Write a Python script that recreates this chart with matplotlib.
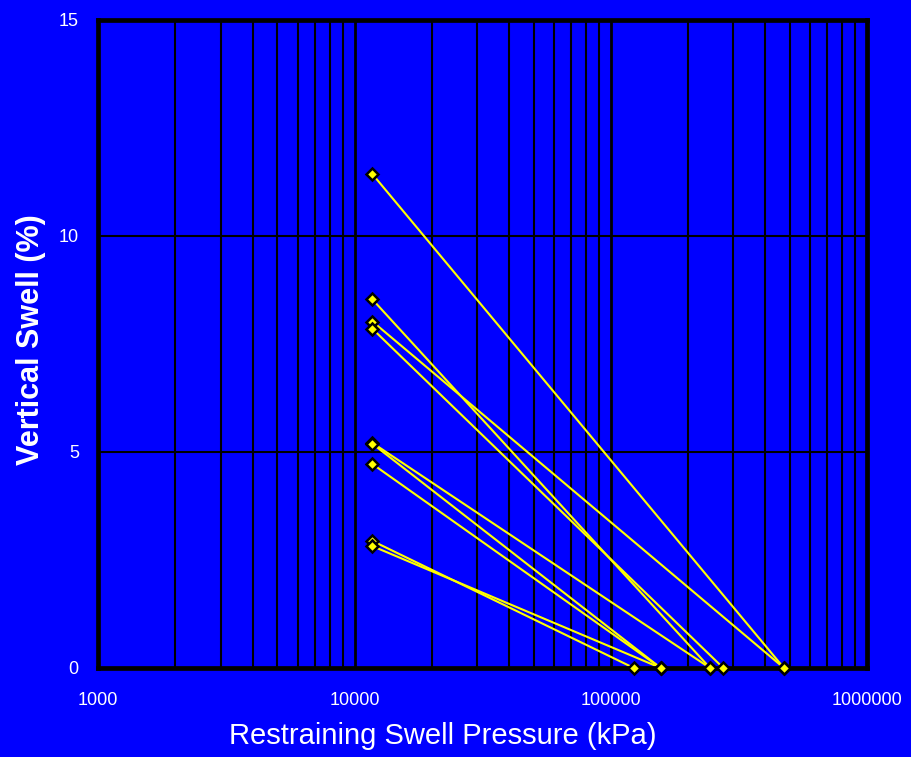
import matplotlib
matplotlib.use('Agg')
import matplotlib.pyplot as plt
from matplotlib.ticker import LogLocator, FixedLocator, FuncFormatter, NullFormatter

# one test per row: (pressure at zero restraint, swell) -> (swell pressure, 0 swell)
p_start = [11750, 11750, 11750, 11750, 11750, 11750, 11750, 11750, 11750]
swell_start = [11.43, 8.53, 8.02, 7.85, 5.21, 5.19, 4.72, 2.94, 2.82]
p_end = [474000, 244000, 474000, 275000, 244000, 156700, 156700, 123000, 156700]
swell_end = [0, 0, 0, 0, 0, 0, 0, 0, 0]

x_ticks = [1000, 10000, 100000, 1000000]
y_ticks = [0, 5, 10, 15]

plt.rcParams['font.family'] = ['Liberation Sans', 'DejaVu Sans']
blue = '#0000FF'

fig = plt.figure(figsize=(9.11, 7.57), dpi=100, facecolor=blue)
ax = fig.add_axes([0.1079, 0.1176, 0.8438, 0.856], facecolor=blue)

for i in range(len(p_start)):
    ax.plot([p_start[i], p_end[i]], [swell_start[i], swell_end[i]],
            color='#FFFF00', lw=1.5, zorder=3)
ax.plot(p_start, swell_start, linestyle='none', marker='D', ms=6.5,
        mfc='#FFFF00', mec='black', mew=1.8, zorder=4, clip_on=False)
ax.plot(p_end, swell_end, linestyle='none', marker='D', ms=6.5,
        mfc='#FFFF00', mec='black', mew=1.8, zorder=6, clip_on=False)

ax.set_xscale('log')
ax.set_xlim(1000, 1000000)
ax.set_ylim(0, 15)
ax.xaxis.set_major_locator(FixedLocator(x_ticks))
ax.xaxis.set_major_formatter(FuncFormatter(lambda v, pos: '%d' % round(v)))
ax.xaxis.set_minor_locator(LogLocator(base=10, subs=range(2, 10)))
ax.xaxis.set_minor_formatter(NullFormatter())
ax.yaxis.set_major_locator(FixedLocator(y_ticks))

ax.grid(True, which='major', axis='x', color='black', lw=2.0, zorder=1)
ax.grid(True, which='minor', axis='x', color='black', lw=1.5, zorder=1)
ax.grid(True, which='major', axis='y', color='black', lw=1.5, zorder=1)
ax.set_axisbelow(True)

ax.tick_params(which='both', length=0, colors='white', labelsize=13)
ax.tick_params(axis='x', pad=17)
ax.tick_params(axis='y', pad=14)

for s in ax.spines.values():
    s.set_color('black')
    s.set_linewidth(3.4)
    s.set_zorder(5)

fig.text(443 / 911, 1 - 736 / 757, 'Restraining Swell Pressure (kPa)',
         color='white', fontsize=21, ha='center', va='center')
fig.text(31 / 911, 1 - 340 / 757, 'Vertical Swell (%)', color='white',
         fontsize=22, fontweight='bold', rotation=90, ha='center', va='center')

fig.savefig('out.png', dpi=100, facecolor=blue)
